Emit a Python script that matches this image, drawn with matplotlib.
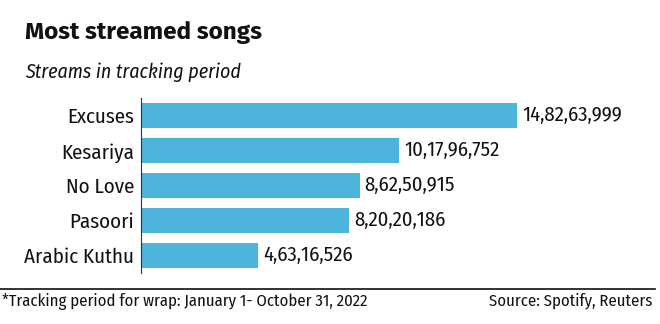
import matplotlib.pyplot as plt
from matplotlib.lines import Line2D

songs = ["Excuses", "Kesariya", "No Love", "Pasoori", "Arabic Kuthu"]
streams = [148263999, 101796752, 86250915, 82020186, 46316526]
labels = ["14,82,63,999", "10,17,96,752", "8,62,50,915", "8,20,20,186", "4,63,16,526"]

bar_color = "#4db4dc"
cond = ["Fira Sans Condensed", "DejaVu Sans"]

fig = plt.figure(figsize=(6.6, 3.24), dpi=100)
ax = fig.add_axes([141 / 660, 51 / 324, 509 / 660, 175 / 324])

ypos = list(range(len(songs)))
ax.barh(ypos, streams, height=0.71, color=bar_color)
ax.set_ylim(len(songs) - 0.5, -0.5)
ax.set_xlim(0, 148263999 * 509 / 376)

for y, v, t in zip(ypos, streams, labels):
    ax.text(v + 148263999 * 5 / 376, y, t, va="center", ha="left",
            fontsize=14.9, family=cond, color="#111111")

ax.set_yticks(ypos)
ax.set_yticklabels(songs, fontsize=15.1, family=cond, color="#111111")
ax.tick_params(axis="y", length=0, pad=5)
ax.set_xticks([])
for s in ["top", "right", "bottom"]:
    ax.spines[s].set_visible(False)
ax.spines["left"].set_color("#333333")
ax.spines["left"].set_linewidth(0.8)

fig.text(25 / 660, 1 - 32 / 324, "Most streamed songs", fontsize=17.5,
         fontweight="bold", family="Fira Sans", va="center", ha="left", color="#111111")
fig.text(25 / 660, 1 - 72 / 324, "Streams in tracking period", fontsize=14.3,
         style="italic", family="Fira Sans Condensed", va="center", ha="left", color="#111111")

fig.add_artist(Line2D([0, 655 / 660], [1 - 289 / 324, 1 - 289 / 324],
                      transform=fig.transFigure, color="#111111", linewidth=1.2))
fig.text(2 / 660, 1 - 301 / 324, "*Tracking period for wrap: January 1- October 31, 2022",
         fontsize=12, family=cond, va="center", ha="left", color="#111111")
fig.text(652 / 660, 1 - 301 / 324, "Source: Spotify, Reuters",
         fontsize=12, family=cond, va="center", ha="right", color="#111111")

fig.savefig("out.png", dpi=100)
